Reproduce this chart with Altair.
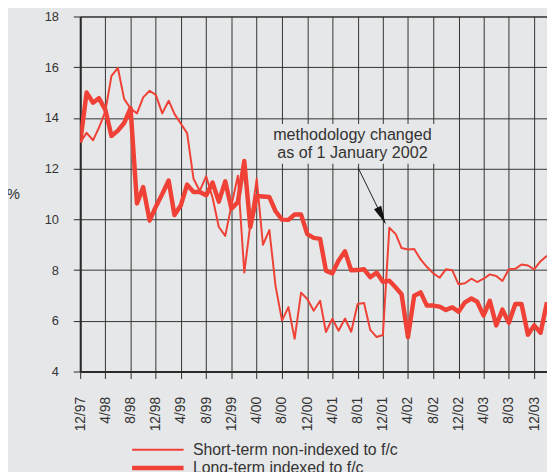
import altair as alt
import pandas as pd

# ---- data ----
months = pd.date_range("1997-12-01", periods=75, freq="MS").strftime("%Y-%m-%d").tolist()

short_term = [
    13.03, 13.41, 13.12, 13.61, 14.25, 15.66, 15.97, 14.75, 14.37, 14.18,
    14.81, 15.07, 14.91, 14.18, 14.68, 14.16, 13.77, 13.40, 11.60, 11.12,
    11.70, 10.85, 9.70, 9.35, 10.55, 11.72, 7.90, 9.80, 11.60, 9.00,
    9.58, 7.37, 6.01, 6.54, 5.29, 7.11, 6.86, 6.40, 6.79, 5.56,
    6.08, 5.61, 6.09, 5.57, 6.66, 6.70, 5.64, 5.36, 5.44, 9.67,
    9.42, 8.87, 8.81, 8.83, 8.42, 8.13, 7.87, 7.70, 8.03, 7.99,
    7.44, 7.48, 7.66, 7.53, 7.66, 7.83, 7.77, 7.57, 8.03, 8.05,
    8.22, 8.18, 8.03, 8.35, 8.57,
]

long_term = [
    13.03, 15.00, 14.60, 14.78, 14.33, 13.29, 13.50, 13.80, 14.39, 10.63,
    11.27, 9.95, 10.50, 11.00, 11.53, 10.17, 10.56, 11.37, 11.08, 11.08,
    10.95, 11.45, 10.70, 11.50, 10.42, 10.68, 12.30, 9.70, 10.92, 10.90,
    10.88, 10.32, 9.99, 9.98, 10.19, 10.19, 9.42, 9.27, 9.23, 7.98,
    7.87, 8.38, 8.74, 7.99, 8.00, 8.03, 7.72, 7.90, 7.54, 7.58,
    7.31, 7.05, 5.36, 6.99, 7.12, 6.60, 6.60, 6.56, 6.43, 6.53,
    6.36, 6.73, 6.88, 6.75, 6.21, 6.79, 5.82, 6.44, 5.92, 6.66,
    6.66, 5.45, 5.82, 5.53, 6.73,
]

series_names = ["Short-term non-indexed to f/c", "Long-term indexed to f/c"]
x_tick_dates = pd.date_range("1997-12-01", "2003-12-01", freq="4MS")
y_ticks = [4, 6, 8, 10, 12, 14, 16, 18]

annotation_lines = ["methodology changed", "as of 1 January 2002"]
annotation_pos = {"date": "2001-07-07", "value": 13.32}
annotation_box = {"d1": "2000-05-08", "d2": "2002-09-01", "v1": 13.76, "v2": 12.19}
arrow = {"d1": "2001-08-03", "v1": 12.04, "d2": "2001-12-13", "v2": 9.84}

# ---- styles ----
RED = "#ef4136"
BG = "#e6e7e8"
INK = "#2b2b2b"
FONT = "Liberation Sans"

df = pd.DataFrame({
    "date": months * 2,
    "value": short_term + long_term,
    "series": [series_names[0]] * len(months) + [series_names[1]] * len(months),
})

x_scale = alt.Scale(
    type="utc",
    domain=[alt.DateTime(year=1997, month=12, date=1, utc=True),
            alt.DateTime(year=2004, month=2, date=1, utc=True)],
)
y_scale = alt.Scale(domain=[4, 18], nice=False, zero=False)

x_axis = alt.Axis(
    values=[alt.DateTime(year=int(d.year), month=int(d.month), date=1, utc=True) for d in x_tick_dates],
    tickCount=40,
    format="%-m/%y", labelAngle=270, labelAlign="right", labelBaseline="middle",
    labelPadding=18, labelFlush=False, labelOverlap=False,
    tickSize=7, tickColor=INK, domainColor=INK, domainWidth=2,
    grid=True, gridColor="#333333", gridWidth=1,
    labelFont=FONT, labelFontSize=14, labelColor="#333333", title=None,
)
y_axis = alt.Axis(
    values=y_ticks, format="d", labelPadding=15, tickSize=7, tickColor=INK,
    domainColor=INK, domainWidth=2, grid=True, gridColor="#333333", gridWidth=1,
    labelFont=FONT, labelFontSize=13, labelColor="#333333",
    title="%", titleAngle=0, titleX=-68, titleY=179, titleAlign="center",
    titleBaseline="middle", titleFont=FONT, titleFontSize=15,
    titleFontWeight="normal", titleColor="#333333",
)

lines = alt.Chart(df).mark_line(color=RED, strokeJoin="round", clip=True).encode(
    x=alt.X("date:T", scale=x_scale, axis=x_axis),
    y=alt.Y("value:Q", scale=y_scale, axis=y_axis),
    strokeWidth=alt.StrokeWidth(
        "series:N",
        scale=alt.Scale(domain=series_names, range=[2, 4.5]),
        legend=alt.Legend(
            title=None, orient="none", legendX=68, legendY=429,
            symbolType="M-3.25,0L3.25,0", symbolSize=256,
            symbolStrokeColor=RED, labelFont=FONT, labelFontSize=16,
            labelColor="#333333", labelOffset=25, rowPadding=0,
            labelLimit=400,
        ),
    ),
    detail="series:N",
)

box_df = pd.DataFrame([annotation_box])
box = alt.Chart(box_df).mark_rect(fill=BG).encode(
    x="d1:T", x2="d2:T", y="v1:Q", y2="v2:Q",
)

text_df = pd.DataFrame([{"date": annotation_pos["date"], "value": annotation_pos["value"],
                         "label": annotation_lines}])
text = alt.Chart(text_df).mark_text(
    font=FONT, fontSize=16.3, color="#333333", align="center", baseline="middle",
    lineHeight=18,
).encode(x="date:T", y="value:Q", text="label")

arrow_df = pd.DataFrame([arrow])
arrow_line = alt.Chart(arrow_df).mark_rule(color="#222222", strokeWidth=1).encode(
    x="d1:T", y="v1:Q", x2="d2:T", y2="v2:Q",
)
arrow_head = alt.Chart(arrow_df).mark_point(
    shape="M0,0L0.45,2L-0.45,2Z", filled=True, fill="#111111", stroke=None,
    strokeWidth=0, size=324, angle=154, opacity=1,
).encode(x="d2:T", y="v2:Q")

chart = alt.layer(box, lines, text, arrow_line, arrow_head).properties(
    width=472, height=359,
    autosize=alt.AutoSizeParams(type="none"),
    padding={"left": 73, "top": 6, "right": 0, "bottom": 99},
    background=BG,
).configure_view(
    stroke=INK, strokeWidth=1, fill=BG,
)

chart.save("out.html", embed_options={"renderer": "svg", "actions": False})
